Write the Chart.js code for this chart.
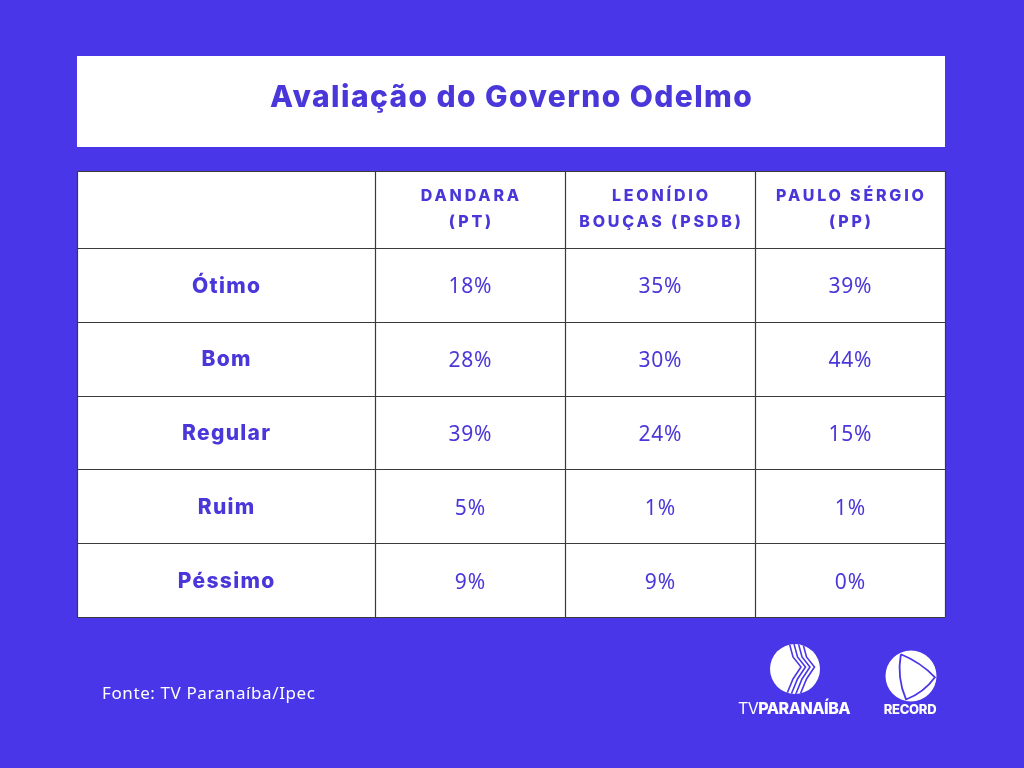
<!DOCTYPE html>
<html>
<head>
<meta charset="utf-8">
<script src="https://cdn.jsdelivr.net/npm/chart.js@4.4.1/dist/chart.umd.min.js"></script>
<style>
html,body{margin:0;padding:0;background:#4936E8;}
canvas{display:block;}
</style>
</head>
<body>
<canvas id="c" width="1024" height="768"></canvas>
<script>
const title = 'Avaliação do Governo Odelmo';
const categories = ['Ótimo', 'Bom', 'Regular', 'Ruim', 'Péssimo'];
const candidateLines = [['DANDARA', '(PT)'], ['LEONÍDIO', 'BOUÇAS (PSDB)'], ['PAULO SÉRGIO', '(PP)']];
const dandara = [18, 28, 39, 5, 9];
const leonidio = [35, 30, 24, 1, 9];
const pauloSergio = [39, 44, 15, 1, 0];
const source = 'Fonte: TV Paranaíba/Ipec';
const seriesValues = [dandara, leonidio, pauloSergio];
const HEADER = 'HEADER';

const BG = '#4936E8';
const INK = '#4A37DA';
const firstColWidth = 298 / 190; // in column units
const headerExtra = 3;

const datasets = seriesValues.map((vals, ci) => ({
  label: candidateLines[ci].join(' '),
  data: vals.map((v, ri) => ({ x: ci + 0.5, y: categories[ri], v: v })),
  pointRadius: 0,
  showLine: false
}));

function spaced(ctx, text, x, y, spacing) {
  ctx.letterSpacing = spacing + 'px';
  ctx.fillText(text, x + spacing / 2, y);
  ctx.letterSpacing = '0px';
}

const tablePlugin = {
  id: 'tablePlugin',
  beforeDraw(chart) {
    const ctx = chart.ctx;
    const a = chart.chartArea;
    ctx.save();
    ctx.fillStyle = BG;
    ctx.fillRect(0, 0, chart.width, chart.height);
    // title box
    ctx.fillStyle = '#FFFFFF';
    ctx.fillRect(a.left, 56, a.right - a.left, 91);
    ctx.fillStyle = INK;
    ctx.font = '800 30px Inter, "Open Sans", sans-serif';
    ctx.textAlign = 'center';
    ctx.textBaseline = 'middle';
    spaced(ctx, title, (a.left + a.right) / 2, 98, 1.4);
    // table bg
    ctx.fillStyle = '#FFFFFF';
    ctx.fillRect(a.left, a.top - headerExtra, a.right - a.left, a.bottom - a.top + headerExtra);
    ctx.restore();
  },
  afterDatasetsDraw(chart) {
    const ctx = chart.ctx;
    const a = chart.chartArea;
    const xs = chart.scales.x, ys = chart.scales.y;
    const top = a.top - headerExtra;
    ctx.save();
    // grid lines
    ctx.strokeStyle = '#3a3a3a';
    ctx.lineWidth = 1.2;
    const colBounds = [-firstColWidth, 0, 1, 2, 3];
    colBounds.forEach(b => {
      const px = Math.round(xs.getPixelForValue(b)) + 0.5;
      ctx.beginPath(); ctx.moveTo(px, top); ctx.lineTo(px, a.bottom); ctx.stroke();
    });
    const nRows = ys.getLabels().length;
    const rowH = (a.bottom - a.top) / nRows;
    for (let i = 0; i <= nRows; i++) {
      let py = ys.getPixelForValue(i) - rowH / 2;
      if (i === 0) py = top;
      py = Math.round(py) + 0.5;
      ctx.beginPath(); ctx.moveTo(a.left, py); ctx.lineTo(a.right, py); ctx.stroke();
    }
    // header
    ctx.fillStyle = INK;
    ctx.textAlign = 'center';
    ctx.textBaseline = 'middle';
    ctx.font = '800 16px Inter, "Open Sans", sans-serif';
    const hc = ys.getPixelForValue(ys.getLabels().indexOf(HEADER));
    const hy = (top + hc + rowH / 2) / 2;
    candidateLines.forEach((lines, ci) => {
      const cx = xs.getPixelForValue(ci + 0.5);
      spaced(ctx, lines[0], cx, hy - 13, 2.8);
      spaced(ctx, lines[1], cx, hy + 13, 2.8);
    });
    // row labels
    ctx.font = '800 21px Inter, "Open Sans", sans-serif';
    const lx = xs.getPixelForValue(-firstColWidth / 2);
    categories.forEach(cat => {
      spaced(ctx, cat, lx, ys.getPixelForValue(cat) + 1.5, 1.3);
    });
    // values
    ctx.font = '400 21px "Noto Sans", "Open Sans", sans-serif';
    chart.data.datasets.forEach((ds, di) => {
      const meta = chart.getDatasetMeta(di);
      meta.data.forEach((el, i) => {
        spaced(ctx, ds.data[i].v + '%', el.x, el.y + 2.5, 0.8);
      });
    });
    // footer
    ctx.fillStyle = '#FFFFFF';
    ctx.textAlign = 'left';
    ctx.font = '400 17px "Noto Sans", "Open Sans", sans-serif';
    ctx.letterSpacing = '0.6px';
    ctx.fillText(source, 102, 694);
    ctx.letterSpacing = '0px';
    // logos
    drawTvLogo(ctx, 795, 669, 25);
    drawRecordLogo(ctx, 911, 676, 25.5);
    ctx.restore();
  }
};

function drawTvLogo(ctx, cx, cy, r) {
  ctx.save();
  ctx.fillStyle = '#FFFFFF';
  ctx.beginPath(); ctx.arc(cx, cy, r, 0, Math.PI * 2); ctx.fill();
  ctx.beginPath(); ctx.arc(cx, cy, r, 0, Math.PI * 2); ctx.clip();
  ctx.strokeStyle = BG;
  ctx.lineWidth = 1.6;
  for (let i = 0; i < 4; i++) {
    const off = i * 4.5 - 6;
    ctx.beginPath();
    ctx.moveTo(cx + off, cy - r - 2);
    ctx.lineTo(cx + off + 4, cy - 12);
    ctx.lineTo(cx + off + 12, cy - 2);
    ctx.lineTo(cx + off + 4, cy + 10);
    ctx.lineTo(cx + off - 3, cy + r + 2);
    ctx.stroke();
  }
  ctx.restore();
  ctx.save();
  ctx.fillStyle = '#FFFFFF';
  ctx.textAlign = 'left';
  ctx.textBaseline = 'middle';
  ctx.font = '400 16px Inter, sans-serif';
  ctx.letterSpacing = '-0.5px';
  const w1 = ctx.measureText('TV').width;
  ctx.font = '800 16px Inter, sans-serif';
  const w2 = ctx.measureText('PARANAÍBA').width;
  const x0 = 794 - (w1 + w2) / 2;
  ctx.font = '400 16px Inter, sans-serif';
  ctx.fillText('TV', x0, 709);
  ctx.font = '800 16px Inter, sans-serif';
  ctx.fillText('PARANAÍBA', x0 + w1, 709);
  ctx.restore();
}

function drawRecordLogo(ctx, cx, cy, r) {
  ctx.save();
  ctx.fillStyle = '#FFFFFF';
  ctx.beginPath(); ctx.arc(cx, cy, r, 0, Math.PI * 2); ctx.fill();
  ctx.strokeStyle = BG;
  ctx.lineWidth = 1.8;
  const angs = [-115, 3, 102].map(d => d * Math.PI / 180);
  const pts = angs.map(t => [cx + Math.cos(t) * (r - 1.5), cy + Math.sin(t) * (r - 1.5)]);
  ctx.beginPath();
  ctx.moveTo(pts[0][0], pts[0][1]);
  for (let k = 0; k < 3; k++) {
    const p = pts[k], q = pts[(k + 1) % 3];
    const mx = (p[0] + q[0]) / 2, my = (p[1] + q[1]) / 2;
    const f = k === 2 ? 1.9 : 1.35;
    const ox = cx + (mx - cx) * f, oy = cy + (my - cy) * f;
    ctx.quadraticCurveTo(ox, oy, q[0], q[1]);
  }
  ctx.stroke();
  ctx.fillStyle = '#FFFFFF';
  ctx.textAlign = 'center';
  ctx.textBaseline = 'middle';
  ctx.font = '800 13px Inter, sans-serif';
  ctx.letterSpacing = '-0.3px';
  ctx.fillText('RECORD', 910, 710);
  ctx.restore();
}

new Chart(document.getElementById('c'), {
  type: 'scatter',
  data: { datasets: datasets },
  options: {
    responsive: false,
    animation: false,
    events: [],
    layout: { padding: { left: 77, right: 79, top: 171 + headerExtra, bottom: 151 } },
    plugins: { legend: { display: false }, tooltip: { enabled: false } },
    scales: {
      x: { type: 'linear', min: -firstColWidth, max: 3, display: false },
      y: { type: 'category', labels: [HEADER].concat(categories), offset: true, display: false }
    }
  },
  plugins: [tablePlugin]
});
</script>
</body>
</html>
